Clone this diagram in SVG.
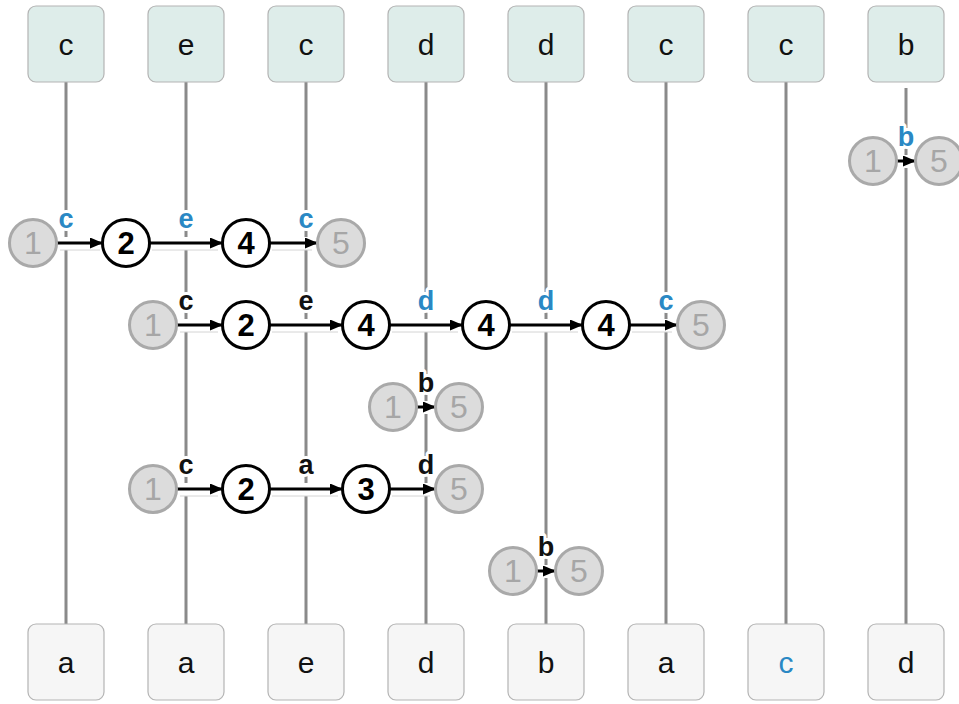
<svg xmlns="http://www.w3.org/2000/svg" width="959" height="704" viewBox="0 0 959 704">
<style>
.top rect{fill:#deedea;stroke:#b4b4b4;stroke-width:1.2}
.bot rect{fill:#f6f6f6;stroke:#b4b4b4;stroke-width:1.2}
.bt{font-family:"Liberation Sans",Arial,sans-serif;font-size:30px;text-anchor:middle;fill:#111}
.blue{fill:#2a88c4}
.vl{stroke:#8a8a8a;stroke-width:3}
.halo{fill:#fff}
.hl{stroke:#d4d4d4;stroke-width:1}
.ar{stroke:#000;stroke-width:3;marker-end:url(#ah)}
.lab{font-family:"Liberation Sans",Arial,sans-serif;font-size:27px;font-weight:bold;text-anchor:middle;fill:#111;stroke:#fff;stroke-width:6;paint-order:stroke;stroke-linejoin:round}
.lab.blue{fill:#2a88c4}
.g circle{fill:#dcdcdc;stroke:#a9a9a9;stroke-width:3}
.g text{fill:#a6a6a6;font-weight:normal;font-size:32px}
.k circle{fill:#fff;stroke:#000;stroke-width:3}
.k text{fill:#000}
.num{font-family:"Liberation Sans",Arial,sans-serif;font-size:31px;font-weight:bold;text-anchor:middle}
</style>
<defs>
<marker id="ah" markerUnits="userSpaceOnUse" markerWidth="13" markerHeight="11" refX="12" refY="5.5" orient="auto">
<path d="M0,0 L13,5.5 L0,11 z" fill="#000"/>
</marker>
</defs>

<g id="lifelines">
<line class="vl" x1="66" y1="82" x2="66" y2="624"/>
<line class="vl" x1="186" y1="82" x2="186" y2="624"/>
<line class="vl" x1="306" y1="82" x2="306" y2="624"/>
<line class="vl" x1="426" y1="82" x2="426" y2="624"/>
<line class="vl" x1="546" y1="82" x2="546" y2="624"/>
<line class="vl" x1="666" y1="82" x2="666" y2="624"/>
<line class="vl" x1="786" y1="82" x2="786" y2="624"/>
<line class="vl" x1="906" y1="88" x2="906" y2="624"/>
</g>

<g id="top-nodes">
<g id="t1" class="top"><rect x="28" y="6" width="76" height="76" rx="8"/><text class="bt" x="66" y="55">c</text></g>
<g id="t2" class="top"><rect x="148" y="6" width="76" height="76" rx="8"/><text class="bt" x="186" y="55">e</text></g>
<g id="t3" class="top"><rect x="268" y="6" width="76" height="76" rx="8"/><text class="bt" x="306" y="55">c</text></g>
<g id="t4" class="top"><rect x="388" y="6" width="76" height="76" rx="8"/><text class="bt" x="426" y="55">d</text></g>
<g id="t5" class="top"><rect x="508" y="6" width="76" height="76" rx="8"/><text class="bt" x="546" y="55">d</text></g>
<g id="t6" class="top"><rect x="628" y="6" width="76" height="76" rx="8"/><text class="bt" x="666" y="55">c</text></g>
<g id="t7" class="top"><rect x="748" y="6" width="76" height="76" rx="8"/><text class="bt" x="786" y="55">c</text></g>
<g id="t8" class="top"><rect x="868" y="6" width="76" height="76" rx="8"/><text class="bt" x="906" y="55">b</text></g>
</g>

<g id="bottom-nodes">
<g id="b1" class="bot"><rect x="28" y="624" width="76" height="76" rx="8"/><text class="bt" x="66" y="673">a</text></g>
<g id="b2" class="bot"><rect x="148" y="624" width="76" height="76" rx="8"/><text class="bt" x="186" y="673">a</text></g>
<g id="b3" class="bot"><rect x="268" y="624" width="76" height="76" rx="8"/><text class="bt" x="306" y="673">e</text></g>
<g id="b4" class="bot"><rect x="388" y="624" width="76" height="76" rx="8"/><text class="bt" x="426" y="673">d</text></g>
<g id="b5" class="bot"><rect x="508" y="624" width="76" height="76" rx="8"/><text class="bt" x="546" y="673">b</text></g>
<g id="b6" class="bot"><rect x="628" y="624" width="76" height="76" rx="8"/><text class="bt" x="666" y="673">a</text></g>
<g id="b7" class="bot"><rect x="748" y="624" width="76" height="76" rx="8"/><text class="bt blue" x="786" y="673">c</text></g>
<g id="b8" class="bot"><rect x="868" y="624" width="76" height="76" rx="8"/><text class="bt" x="906" y="673">d</text></g>
</g>

<g id="connectors">
<!-- halos -->
<rect class="halo" x="57" y="237" width="45" height="13"/>
<rect class="halo" x="150" y="237" width="72" height="13"/>
<rect class="halo" x="270" y="237" width="47" height="13"/>
<rect class="halo" x="177" y="319" width="45" height="13"/>
<rect class="halo" x="270" y="319" width="72" height="13"/>
<rect class="halo" x="390" y="319" width="72" height="13"/>
<rect class="halo" x="510" y="319" width="72" height="13"/>
<rect class="halo" x="630" y="319" width="47" height="13"/>
<rect class="halo" x="417" y="401" width="18" height="13"/>
<rect class="halo" x="177" y="483" width="45" height="13"/>
<rect class="halo" x="270" y="483" width="72" height="13"/>
<rect class="halo" x="390" y="483" width="45" height="13"/>
<rect class="halo" x="537" y="565" width="18" height="13"/>
<rect class="halo" x="897" y="155" width="18" height="13"/>
<!-- faint underlines -->
<line class="hl" x1="60" y1="250" x2="100" y2="250"/>
<line class="hl" x1="152" y1="250" x2="218" y2="250"/>
<line class="hl" x1="272" y1="250" x2="312" y2="250"/>
<line class="hl" x1="180" y1="332" x2="218" y2="332"/>
<line class="hl" x1="272" y1="332" x2="338" y2="332"/>
<line class="hl" x1="392" y1="332" x2="458" y2="332"/>
<line class="hl" x1="512" y1="332" x2="578" y2="332"/>
<line class="hl" x1="632" y1="332" x2="672" y2="332"/>
<line class="hl" x1="180" y1="496" x2="218" y2="496"/>
<line class="hl" x1="272" y1="496" x2="338" y2="496"/>
<line class="hl" x1="392" y1="496" x2="430" y2="496"/>
<!-- arrows -->
<line class="ar" x1="57" y1="243" x2="102" y2="243"/>
<line class="ar" x1="150" y1="243" x2="222" y2="243"/>
<line class="ar" x1="270" y1="243" x2="317" y2="243"/>
<line class="ar" x1="177" y1="325" x2="222" y2="325"/>
<line class="ar" x1="270" y1="325" x2="342" y2="325"/>
<line class="ar" x1="390" y1="325" x2="462" y2="325"/>
<line class="ar" x1="510" y1="325" x2="582" y2="325"/>
<line class="ar" x1="630" y1="325" x2="677" y2="325"/>
<line class="ar" x1="417" y1="407" x2="435" y2="407"/>
<line class="ar" x1="177" y1="489" x2="222" y2="489"/>
<line class="ar" x1="270" y1="489" x2="342" y2="489"/>
<line class="ar" x1="390" y1="489" x2="435" y2="489"/>
<line class="ar" x1="537" y1="571" x2="555" y2="571"/>
<line class="ar" x1="897" y1="161" x2="915" y2="161"/>
<!-- labels -->
<text class="lab blue" x="66" y="228">c</text>
<text class="lab blue" x="186" y="228">e</text>
<text class="lab blue" x="306" y="228">c</text>
<text class="lab" x="186" y="310">c</text>
<text class="lab" x="306" y="310">e</text>
<text class="lab blue" x="426" y="310">d</text>
<text class="lab blue" x="546" y="310">d</text>
<text class="lab blue" x="666" y="310">c</text>
<text class="lab" x="426" y="392">b</text>
<text class="lab" x="186" y="474">c</text>
<text class="lab" x="306" y="474">a</text>
<text class="lab" x="426" y="474">d</text>
<text class="lab" x="546" y="556">b</text>
<text class="lab blue" x="906" y="146">b</text>
</g>

<g id="states">
<g id="r1s1" class="g"><circle cx="33" cy="243" r="23.5"/><text class="num" x="33" y="254">1</text></g>
<g id="r1s2" class="k"><circle cx="126" cy="243" r="23.5"/><text class="num" x="126" y="254">2</text></g>
<g id="r1s4" class="k"><circle cx="246" cy="243" r="23.5"/><text class="num" x="246" y="254">4</text></g>
<g id="r1s5" class="g"><circle cx="341" cy="243" r="23.5"/><text class="num" x="341" y="254">5</text></g>

<g id="r2s1" class="g"><circle cx="153" cy="325" r="23.5"/><text class="num" x="153" y="336">1</text></g>
<g id="r2s2" class="k"><circle cx="246" cy="325" r="23.5"/><text class="num" x="246" y="336">2</text></g>
<g id="r2s4a" class="k"><circle cx="366" cy="325" r="23.5"/><text class="num" x="366" y="336">4</text></g>
<g id="r2s4b" class="k"><circle cx="486" cy="325" r="23.5"/><text class="num" x="486" y="336">4</text></g>
<g id="r2s4c" class="k"><circle cx="606" cy="325" r="23.5"/><text class="num" x="606" y="336">4</text></g>
<g id="r2s5" class="g"><circle cx="701" cy="325" r="23.5"/><text class="num" x="701" y="336">5</text></g>

<g id="r3s1" class="g"><circle cx="393" cy="407" r="23.5"/><text class="num" x="393" y="418">1</text></g>
<g id="r3s5" class="g"><circle cx="459" cy="407" r="23.5"/><text class="num" x="459" y="418">5</text></g>

<g id="r4s1" class="g"><circle cx="153" cy="489" r="23.5"/><text class="num" x="153" y="500">1</text></g>
<g id="r4s2" class="k"><circle cx="246" cy="489" r="23.5"/><text class="num" x="246" y="500">2</text></g>
<g id="r4s3" class="k"><circle cx="366" cy="489" r="23.5"/><text class="num" x="366" y="500">3</text></g>
<g id="r4s5" class="g"><circle cx="459" cy="489" r="23.5"/><text class="num" x="459" y="500">5</text></g>

<g id="r5s1" class="g"><circle cx="513" cy="571" r="23.5"/><text class="num" x="513" y="582">1</text></g>
<g id="r5s5" class="g"><circle cx="579" cy="571" r="23.5"/><text class="num" x="579" y="582">5</text></g>

<g id="r0s1" class="g"><circle cx="873" cy="161" r="23.5"/><text class="num" x="873" y="172">1</text></g>
<g id="r0s5" class="g"><circle cx="939" cy="161" r="23.5"/><text class="num" x="939" y="172">5</text></g>
</g>
</svg>
